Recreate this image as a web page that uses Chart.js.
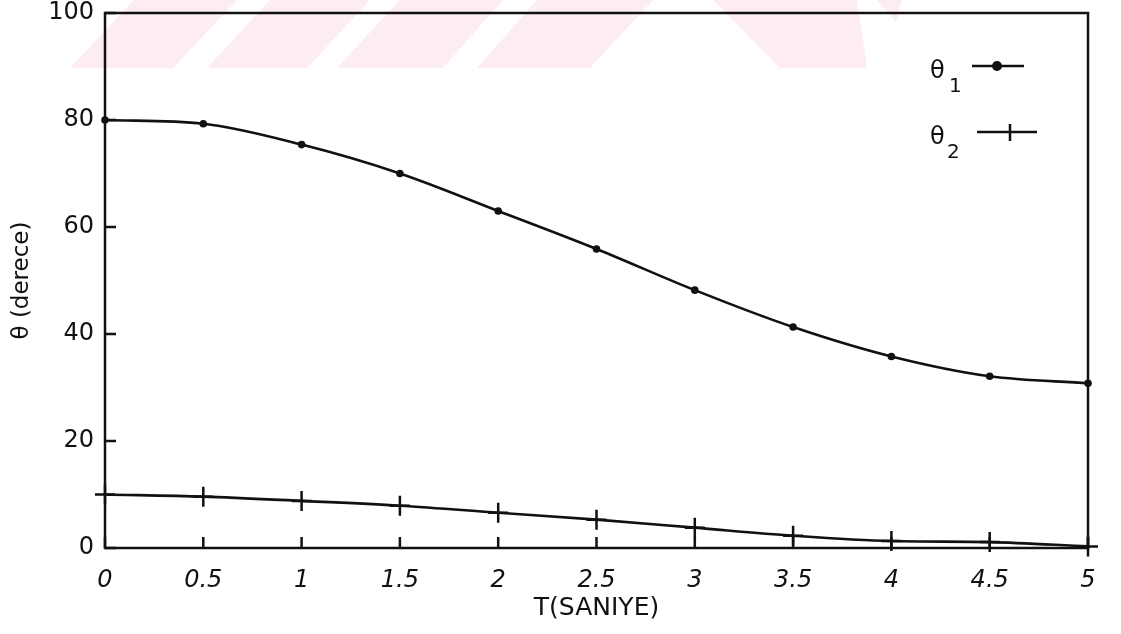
<!DOCTYPE html>
<html>
<head>
<meta charset="utf-8">
<script src="https://cdn.jsdelivr.net/npm/chart.js@4"></script>
<style>
  html, body { margin: 0; padding: 0; background: #fff; }
  canvas { display: block; }
</style>
</head>
<body>
<canvas id="chart" width="1121" height="634"></canvas>
<script>
// T (saniye) vs θ (derece)

const T_VALUES = [0, 0.5, 1, 1.5, 2, 2.5, 3, 3.5, 4, 4.5, 5];
const THETA1 = [80, 79.3, 75.4, 70, 63, 55.9, 48.2, 41.3, 35.8, 32.1, 30.8];
const THETA2 = [10, 9.6, 8.8, 7.9, 6.6, 5.3, 3.8, 2.3, 1.3, 1.1, 0.3];
const X_TICKS = [0, 0.5, 1, 1.5, 2, 2.5, 3, 3.5, 4, 4.5, 5];
const Y_TICKS = [0, 20, 40, 60, 80, 100];

const FONT = "'DejaVu Sans', 'Liberation Sans', sans-serif";
const INK = '#111';

Chart.defaults.font.family = FONT;
Chart.defaults.color = INK;

// faint pink watermark band at the top of the page
const watermark = {
  id: 'watermark',
  beforeDraw(chart) {
    const ctx = chart.ctx;
    const polys = [
      [[134, 0], [237, 0], [173, 68], [70, 68]],
      [[270, 0], [370, 0], [307, 68], [207, 68]],
      [[400, 0], [503, 0], [443, 68], [337, 68]],
      [[537, 0], [653, 0], [590, 68], [477, 68]],
      [[713, 0], [857, 0], [867, 68], [780, 68]],
      [[877, 0], [902, 0], [896, 22]],
    ];
    ctx.save();
    ctx.fillStyle = 'rgb(253,236,240)';
    for (const p of polys) {
      ctx.beginPath();
      ctx.moveTo(p[0][0], p[0][1]);
      for (let i = 1; i < p.length; i++) ctx.lineTo(p[i][0], p[i][1]);
      ctx.closePath();
      ctx.fill();
    }
    ctx.restore();
  }
};

// frame + inward tick marks + legend
const frame = {
  id: 'frame',
  afterDraw(chart) {
    const { ctx, chartArea: a, scales: { x, y } } = chart;
    ctx.save();
    ctx.strokeStyle = INK;
    ctx.lineWidth = 2.5;
    ctx.strokeRect(a.left, a.top, a.right - a.left, a.bottom - a.top);

    ctx.beginPath();
    for (const v of X_TICKS) {
      const px = x.getPixelForValue(v);
      ctx.moveTo(px, a.bottom);
      ctx.lineTo(px, a.bottom - 11);
    }
    for (const v of Y_TICKS) {
      const py = y.getPixelForValue(v);
      ctx.moveTo(a.left, py);
      ctx.lineTo(a.left + 11, py);
    }
    ctx.stroke();

    // legend
    ctx.fillStyle = INK;
    ctx.textBaseline = 'alphabetic';
    ctx.textAlign = 'left';
    ctx.font = '24px ' + FONT;
    ctx.fillText('θ', 930, 78);
    ctx.fillText('θ', 930, 144);
    ctx.font = '20px ' + FONT;
    ctx.fillText('1', 949, 92);
    ctx.fillText('2', 947, 158);

    ctx.lineWidth = 2.5;
    ctx.beginPath();
    ctx.moveTo(972, 66); ctx.lineTo(1024, 66);
    ctx.moveTo(977, 132); ctx.lineTo(1037, 132);
    ctx.moveTo(1010, 124); ctx.lineTo(1010, 141);
    ctx.stroke();
    ctx.beginPath();
    ctx.arc(997, 66, 5, 0, Math.PI * 2);
    ctx.fill();
    ctx.restore();
  }
};

// keep the plot box where the reference has it: no label overflow padding
function noPad(s) {
  s.paddingTop = 0; s.paddingBottom = 0; s.paddingLeft = 0; s.paddingRight = 0;
}

new Chart(document.getElementById('chart'), {
  type: 'line',
  data: {
    datasets: [
      {
        label: 'θ1',
        data: T_VALUES.map((t, i) => ({ x: t, y: THETA1[i] })),
        borderColor: INK,
        backgroundColor: INK,
        borderWidth: 2.6,
        pointStyle: 'circle',
        pointRadius: 3.8,
        pointBorderWidth: 0,
        cubicInterpolationMode: 'monotone',
      },
      {
        label: 'θ2',
        data: T_VALUES.map((t, i) => ({ x: t, y: THETA2[i] })),
        borderColor: INK,
        backgroundColor: INK,
        borderWidth: 2.6,
        pointStyle: 'cross',
        pointRadius: 10,
        pointBorderWidth: 2.5,
        cubicInterpolationMode: 'monotone',
      },
    ],
  },
  options: {
    responsive: false,
    animation: false,
    clip: false,
    layout: { autoPadding: false, padding: { top: 13, right: 33, left: 0, bottom: 0 } },
    plugins: { legend: { display: false }, tooltip: { enabled: false } },
    scales: {
      x: {
        type: 'linear',
        min: 0, max: 5,
        afterFit(s) { s.height = 86; noPad(s); },
        afterBuildTicks(s) { s.ticks = X_TICKS.map(v => ({ value: v })); },
        grid: { display: false, drawTicks: false },
        border: { display: false },
        ticks: {
          padding: 18,
          maxRotation: 0,
          font: { size: 24, style: 'italic' },
          color: INK,
          callback: v => String(v),
        },
        title: {
          display: true,
          text: 'T(SANIYE)',
          font: { size: 25 },
          color: INK,
          padding: { top: 0, bottom: 11 },
        },
      },
      y: {
        min: 0, max: 100,
        afterFit(s) { s.width = 105; noPad(s); },
        afterBuildTicks(s) { s.ticks = Y_TICKS.map(v => ({ value: v })); },
        grid: { display: false, drawTicks: false },
        border: { display: false },
        ticks: {
          padding: 11,
          font: { size: 24 },
          color: INK,
          callback: v => String(v),
        },
        title: {
          display: true,
          text: 'θ (derece)',
          font: { size: 23 },
          color: INK,
          padding: { top: 8, bottom: 0 },
        },
      },
    },
  },
  plugins: [watermark, frame],
});
</script>
</body>
</html>
